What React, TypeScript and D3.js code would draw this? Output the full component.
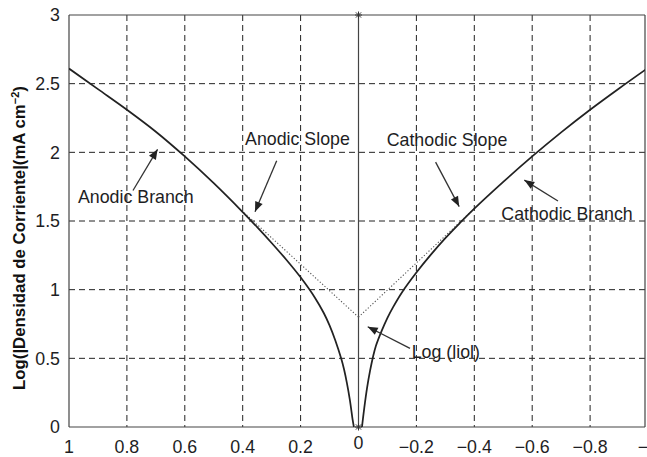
import React from "react";
import * as d3 from "d3";

// ---- data ----
const X_TICKS = [1, 0.8, 0.6, 0.4, 0.2, 0, -0.2, -0.4, -0.6, -0.8, -1];
const X_TICK_LABELS = ["1", "0.8", "0.6", "0.4", "0.2", "0", "\u22120.2", "\u22120.4", "\u22120.6", "\u22120.8", "\u22121"];
const Y_TICKS = [0, 0.5, 1, 1.5, 2, 2.5, 3];
const Y_TICK_LABELS = ["0", "0.5", "1", "1.5", "2", "2.5", "3"];

// Anodic branch (overpotential > 0 plotted on the left)
const ANODIC_X = [1.0, 0.9, 0.8, 0.7, 0.6, 0.5, 0.4, 0.35, 0.3, 0.25, 0.2, 0.15, 0.12, 0.1, 0.08, 0.06, 0.05, 0.04, 0.03, 0.02, 0.016];
const ANODIC_Y = [2.61, 2.46, 2.31, 2.15, 1.97, 1.775, 1.565, 1.455, 1.34, 1.22, 1.09, 0.94, 0.83, 0.74, 0.63, 0.5, 0.42, 0.32, 0.2, 0.05, 0.0];

// Cathodic branch
const CATHODIC_X = [-0.012, -0.02, -0.03, -0.04, -0.05, -0.06, -0.08, -0.1, -0.12, -0.15, -0.2, -0.25, -0.3, -0.35, -0.4, -0.5, -0.6, -0.7, -0.8, -0.9, -1.0];
const CATHODIC_Y = [0.0, 0.14, 0.29, 0.41, 0.51, 0.59, 0.7, 0.795, 0.875, 0.98, 1.125, 1.255, 1.375, 1.485, 1.59, 1.785, 1.97, 2.145, 2.31, 2.465, 2.615];

// Tafel extrapolations (dotted)
const ANODIC_SLOPE_X = [0, 0.4];
const ANODIC_SLOPE_Y = [0.8, 1.57];
const CATHODIC_SLOPE_X = [0, -0.4];
const CATHODIC_SLOPE_Y = [0.8, 1.59];

// annotations: text position and arrow (tail -> tip), in data units
const ANNOTATIONS = [
  { text: "Anodic Branch", tx: 0.969, ty: 1.633, ax: 0.779, ay: 1.722, bx: 0.694, by: 2.022 },
  { text: "Anodic Slope", tx: 0.392, ty: 2.053, ax: 0.2826, ay: 1.939, bx: 0.3575, by: 1.568 },
  { text: "Cathodic Slope", tx: -0.0974, ty: 2.044, ax: -0.2663, ay: 1.929, bx: -0.3478, by: 1.605 },
  { text: "Cathodic Branch", tx: -0.4933, ty: 1.504, ax: -0.6891, ay: 1.646, bx: -0.5727, by: 1.798 },
  { text: "Log (liol)", tx: -0.1838, ty: 0.502, ax: -0.1779, ay: 0.573, bx: -0.0318, by: 0.73 },
];

const W = 647;
const H = 457;
const LEFT = 69;
const RIGHT_FRAME = 645;
const TOP = 15;
const BOTTOM = 427;
const FONT = "'Liberation Sans', Arial, Helvetica, sans-serif";
const TXT = "#1e1e24";

export default function App() {
  const x = d3.scaleLinear().domain([1, -1]).range([LEFT, 648]);
  const y = d3.scaleLinear().domain([0, 3]).range([BOTTOM, TOP]);

  const line = d3
    .line<[number, number]>()
    .x((d) => x(d[0]))
    .y((d) => y(d[1]))
    .curve(d3.curveCatmullRom.alpha(0.5));
  const straight = d3
    .line<[number, number]>()
    .x((d) => x(d[0]))
    .y((d) => y(d[1]));

  const zip = (a: number[], b: number[]) => a.map((v, i) => [v, b[i]] as [number, number]);

  const anodic = zip(ANODIC_X, ANODIC_Y);
  const cathodic = zip(CATHODIC_X, CATHODIC_Y);
  const aSlope = zip(ANODIC_SLOPE_X, ANODIC_SLOPE_Y);
  const cSlope = zip(CATHODIC_SLOPE_X, CATHODIC_SLOPE_Y);

  const arrowHead = (x1: number, y1: number, x2: number, y2: number) => {
    const dx = x2 - x1;
    const dy = y2 - y1;
    const len = Math.sqrt(dx * dx + dy * dy);
    const ux = dx / len;
    const uy = dy / len;
    const L = 10;
    const Wd = 4;
    const bx = x2 - ux * L;
    const by = y2 - uy * L;
    return `${x2},${y2} ${bx - uy * Wd},${by + ux * Wd} ${bx + uy * Wd},${by - ux * Wd}`;
  };

  const x0 = x(0);
  const star = (cx: number, cy: number) => {
    const r = 3.5;
    const r2 = 2.6;
    return (
      <g stroke="#333" strokeWidth={1}>
        <line x1={cx - r} y1={cy} x2={cx + r} y2={cy} />
        <line x1={cx} y1={cy - r} x2={cx} y2={cy + r} />
        <line x1={cx - r2} y1={cy - r2} x2={cx + r2} y2={cy + r2} />
        <line x1={cx - r2} y1={cy + r2} x2={cx + r2} y2={cy - r2} />
      </g>
    );
  };

  return (
    <svg
      width={W}
      height={H}
      style={{ position: "absolute", left: 0, top: 0, background: "#fff" }}
      fontFamily={FONT}
    >
      <defs>
        <clipPath id="plot">
          <rect x={LEFT} y={TOP} width={RIGHT_FRAME - LEFT} height={BOTTOM - TOP} />
        </clipPath>
      </defs>
      <rect x={0} y={0} width={W} height={H} fill="#fff" />

      {/* grid */}
      <g stroke="#222" strokeWidth={1} strokeDasharray="6,4">
        {X_TICKS.filter((t) => t !== 0 && Math.abs(t) !== 1).map((t) => (
          <line key={"gx" + t} x1={x(t)} x2={x(t)} y1={TOP} y2={BOTTOM} />
        ))}
        {Y_TICKS.filter((t) => t !== 0 && t !== 3).map((t) => (
          <line key={"gy" + t} x1={LEFT} x2={RIGHT_FRAME} y1={y(t)} y2={y(t)} />
        ))}
      </g>

      {/* frame */}
      <g stroke="#444" strokeWidth={1.2} fill="none">
        <line x1={LEFT} x2={RIGHT_FRAME} y1={TOP} y2={TOP} />
        <line x1={LEFT} x2={RIGHT_FRAME} y1={BOTTOM} y2={BOTTOM} />
        <line x1={LEFT} x2={LEFT} y1={TOP} y2={BOTTOM} />
        <line x1={RIGHT_FRAME} x2={RIGHT_FRAME} y1={TOP} y2={BOTTOM} />
      </g>

      {/* zero line */}
      <line x1={x0} x2={x0} y1={TOP} y2={BOTTOM} stroke="#444" strokeWidth={1.2} />
      {star(x0, TOP)}
      {star(x0, BOTTOM)}

      <g clipPath="url(#plot)" fill="none">
        <path d={straight(aSlope) || ""} stroke="#555" strokeWidth={1.1} strokeDasharray="1.2,2" />
        <path d={straight(cSlope) || ""} stroke="#555" strokeWidth={1.1} strokeDasharray="1.2,2" />
        <path d={line(anodic) || ""} stroke="#222" strokeWidth={1.75} />
        <path d={line(cathodic) || ""} stroke="#222" strokeWidth={1.75} />
      </g>

      {/* tick labels */}
      <g fontSize={17.8} fill={TXT}>
        {X_TICKS.map((t, i) => (
          <text key={"xt" + i} x={x(t)} y={t === 0 ? 449 : 453} textAnchor="middle">
            {X_TICK_LABELS[i]}
          </text>
        ))}
        {Y_TICKS.map((t, i) => (
          <text key={"yt" + i} x={60} y={y(t) + 6.3} textAnchor="end">
            {Y_TICK_LABELS[i]}
          </text>
        ))}
      </g>

      {/* y axis title */}
      <text
        transform="translate(25,238) rotate(-90)"
        textAnchor="middle"
        fontWeight="bold"
        fontSize={16.8}
        fill="#111"
      >
        Log(|Densidad de Corriente|(mA cm
        <tspan fontSize={11} dy={-6}>{"\u22122"}</tspan>
        <tspan dy={6}>)</tspan>
      </text>

      {/* annotations */}
      {ANNOTATIONS.map((a, i) => {
        const x1 = x(a.ax);
        const y1 = y(a.ay);
        const x2 = x(a.bx);
        const y2 = y(a.by);
        return (
          <g key={"an" + i}>
            <text x={x(a.tx)} y={y(a.ty)} fontSize={17.8} fill={TXT}>
              {a.text}
            </text>
            <line x1={x1} y1={y1} x2={x2} y2={y2} stroke="#333" strokeWidth={1.3} />
            <polygon points={arrowHead(x1, y1, x2, y2)} fill="#222" />
          </g>
        );
      })}
    </svg>
  );
}
